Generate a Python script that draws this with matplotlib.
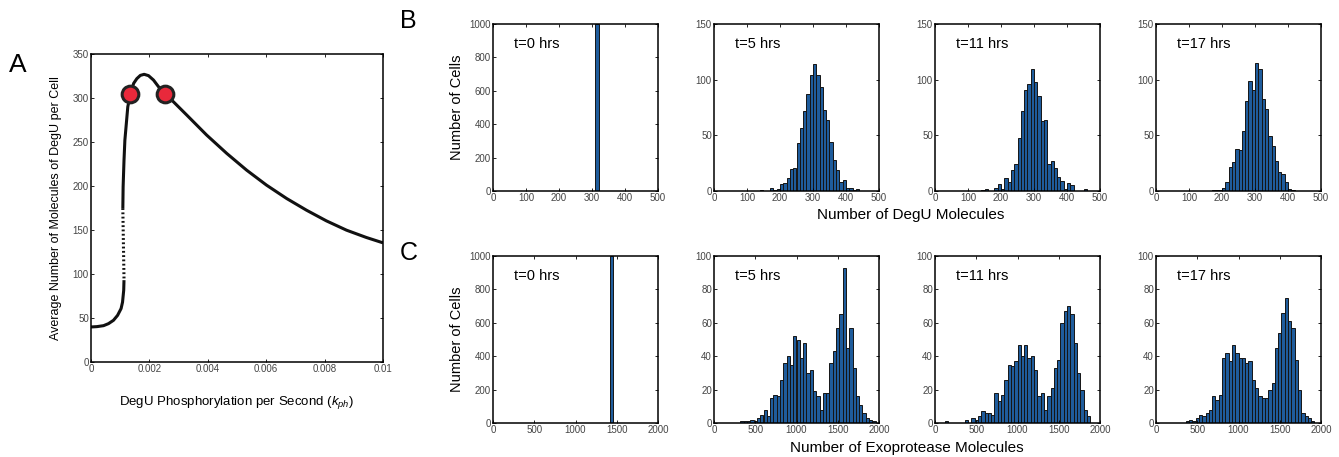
import numpy as np
import matplotlib
matplotlib.use("Agg")
import matplotlib.pyplot as plt

plt.rcParams.update({
    "font.family": ["Liberation Sans", "DejaVu Sans"],
    "mathtext.fontset": "custom",
    "mathtext.it": "Liberation Sans:italic",
    "mathtext.rm": "Liberation Sans",
    "xtick.direction": "in",
    "ytick.direction": "in",
    "xtick.top": True,
    "ytick.right": True,
    "xtick.major.size": 2.5,
    "ytick.major.size": 2.5,
    "xtick.major.width": 0.6,
    "ytick.major.width": 0.6,
    "xtick.labelsize": 7,
    "ytick.labelsize": 7,
    "xtick.labelcolor": "#444444",
    "ytick.labelcolor": "#444444",
    "xtick.major.pad": 1.5,
    "ytick.major.pad": 1.5,
    "axes.linewidth": 1.1,
})

# ---- panel A: steady state curve ----
kph_low = [0, 0.000205, 0.00043, 0.0006, 0.00077, 0.00091, 0.00103, 0.00108, 0.00112, 0.00113]
degu_low = [39.8, 40.2, 41.3, 43.6, 47.4, 53, 60.7, 68, 81.5, 93]
kph_mid = [0.00113, 0.00109]
degu_mid = [95, 174]
kph_high = [0.00109, 0.0011, 0.00113, 0.00116, 0.00121, 0.00126, 0.00134, 0.00146, 0.00157,
            0.00169, 0.00182, 0.00197, 0.00214, 0.00231, 0.00252, 0.00282, 0.00328, 0.00396,
            0.00465, 0.00533, 0.00601, 0.0067, 0.00738, 0.00806, 0.00875, 0.00943, 0.01]
degu_high = [174, 199, 229, 252, 271, 290, 303, 316.6, 322, 325.7, 326.9, 325.4, 320.4, 312.9,
             304.5, 295.8, 280.6, 257.9, 237, 218, 201, 185.8, 172.5, 160.4, 149.8, 141.5, 135.4]
dots_kph = [0.00134, 0.00252]
dots_degu = [304.5, 304.5]

# ---- panel B: DegU histograms (bin width 10) ----
degu_bin = 10
degu_t0_start, degu_t0 = 315, [1000]
degu_t5_start = 145
degu_t5 = [1, 0, 0, 3, 1, 2, 6, 7, 12, 20, 21, 43, 57, 72, 87, 104, 114, 104, 93, 73,
           64, 44, 28, 19, 8, 10, 3, 3, 1, 2]
degu_t11_start = 145
degu_t11 = [1, 2, 0, 0, 3, 6, 2, 12, 8, 19, 24, 48, 72, 91, 96, 110, 98, 85, 63, 64,
            24, 27, 21, 13, 9, 2, 7, 5, 0, 0, 0, 2]
degu_t17_start = 175
degu_t17 = [1, 1, 1, 3, 8, 22, 26, 38, 37, 54, 81, 99, 91, 115, 110, 83, 74, 49, 40, 27,
            17, 15, 8, 2, 1]

# ---- panel C: exoprotease histograms (bin width 40) ----
exo_bin = 40
exo_t0_start, exo_t0 = 1440, [1000]
exo_t5_start = 340
exo_t5 = [1, 1, 1, 2, 1, 3, 5, 8, 4, 15, 17, 16, 26, 36, 40, 35, 52, 50, 39, 48,
          30, 32, 19, 16, 8, 18, 18, 36, 43, 57, 65, 93, 45, 57, 33, 16, 11, 6, 3, 2, 1]
exo_t11_start = 140
exo_t11 = [1, 0, 0, 0, 0, 0, 2, 0, 3, 2, 4, 7, 6, 6, 5, 18, 13, 17, 26, 35,
           34, 37, 47, 40, 47, 39, 40, 32, 16, 18, 8, 16, 21, 33, 38, 60, 67, 70, 65, 48,
           30, 20, 8, 4]
exo_t17_start = 380
exo_t17 = [1, 2, 1, 3, 5, 4, 6, 8, 16, 14, 17, 39, 42, 37, 47, 42, 39, 39, 36, 37,
           26, 21, 16, 15, 15, 20, 24, 45, 54, 66, 75, 61, 57, 38, 20, 6, 4, 3, 1]

time_labels = ["t=0 hrs", "t=5 hrs", "t=11 hrs", "t=17 hrs"]

W, H = 1339, 457
fig = plt.figure(figsize=(W / 100, H / 100), dpi=100)


def ax_px(x0, y0, x1, y1):
    return fig.add_axes([x0 / W, 1 - y1 / H, (x1 - x0) / W, (y1 - y0) / H])


# panel A
axA = ax_px(91, 54, 383, 362)
axA.plot(kph_low, degu_low, color="#111111", lw=2.2, solid_capstyle="butt")
axA.plot(kph_mid, degu_mid, color="#111111", lw=2.2, linestyle=(0, (0.6, 0.8)))
axA.plot(kph_high, degu_high, color="#111111", lw=2.2, solid_capstyle="butt")
axA.plot(dots_kph, dots_degu, "o", ms=12, mfc="#e8293b", mec="#222222", mew=2.2, zorder=5)
axA.set_xlim(0, 0.01)
axA.set_ylim(0, 350)
axA.set_xticks([0, 0.002, 0.004, 0.006, 0.008, 0.01])
axA.set_xticklabels(["0", "0.002", "0.004", "0.006", "0.008", "0.01"])
axA.set_yticks(range(0, 351, 50))
axA.set_ylabel("Average Number of Molecules of DegU per Cell", fontsize=9, labelpad=8)
axA.set_xlabel("DegU Phosphorylation per Second ($k_{ph}$)", fontsize=9.5, labelpad=14)

x_cols = [(493, 658), (714, 879), (935, 1100), (1156, 1321)]
rowB = (24, 191)
rowC = (256, 423)

degu_sets = [(degu_t0_start, degu_t0), (degu_t5_start, degu_t5),
             (degu_t11_start, degu_t11), (degu_t17_start, degu_t17)]
exo_sets = [(exo_t0_start, exo_t0), (exo_t5_start, exo_t5),
            (exo_t11_start, exo_t11), (exo_t17_start, exo_t17)]


def hist_panel(ax, start, counts, width, xmax, xstep, ymax, ystep, label):
    centers = start + width * np.arange(len(counts))
    ax.bar(centers, counts, width=width, color="#1f5c9c", edgecolor="#151515", linewidth=0.7)
    ax.set_xlim(0, xmax)
    ax.set_ylim(0, ymax)
    ax.set_xticks(np.arange(0, xmax + 1, xstep))
    ax.set_yticks(np.arange(0, ymax + 1, ystep))
    ax.text(0.13, 0.88, label, transform=ax.transAxes, fontsize=10.5, va="center", ha="left")


for i, (x0, x1) in enumerate(x_cols):
    axb = ax_px(x0, rowB[0], x1, rowB[1])
    s, c = degu_sets[i]
    hist_panel(axb, s, c, degu_bin, 500, 100, 1000 if i == 0 else 150, 200 if i == 0 else 50,
               time_labels[i])
    axc = ax_px(x0, rowC[0], x1, rowC[1])
    s, c = exo_sets[i]
    hist_panel(axc, s, c, exo_bin, 2000, 500, 1000 if i == 0 else 100, 200 if i == 0 else 20,
               time_labels[i])
    if i == 0:
        axb.set_ylabel("Number of Cells", fontsize=10.5, labelpad=4)
        axc.set_ylabel("Number of Cells", fontsize=10.5, labelpad=4)

fig.text(911 / W, 1 - 215 / H, "Number of DegU Molecules", fontsize=11, ha="center", va="center")
fig.text(907 / W, 1 - 448 / H, "Number of Exoprotease Molecules", fontsize=11, ha="center", va="center")

fig.text(18 / W, 1 - 65 / H, "A", fontsize=19, ha="center", va="center")
fig.text(408 / W, 1 - 21 / H, "B", fontsize=18, ha="center", va="center")
fig.text(409 / W, 1 - 253 / H, "C", fontsize=18, ha="center", va="center")

fig.savefig("out.png", dpi=100)
